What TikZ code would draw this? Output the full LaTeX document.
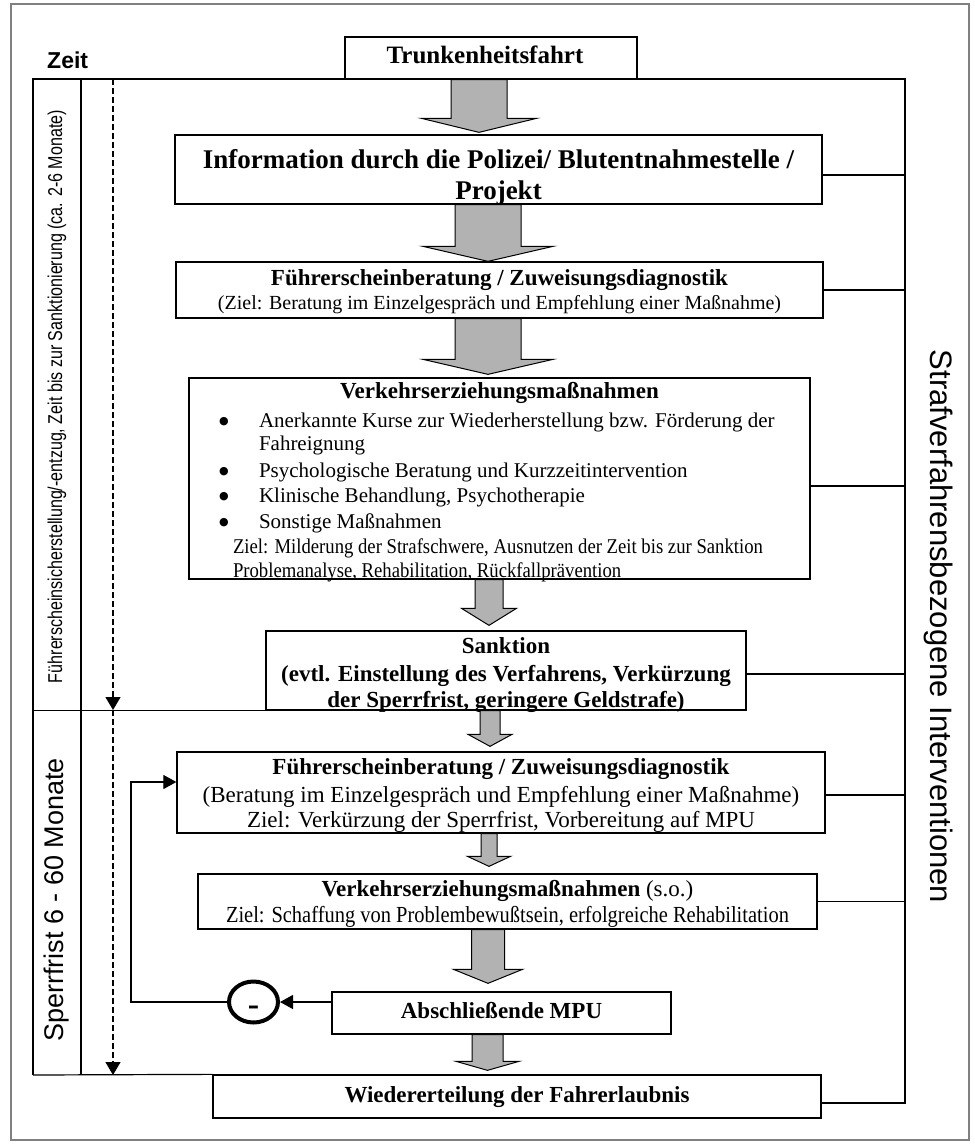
\documentclass[tikz,border=0pt]{standalone}
\usepackage{fontspec}
\setmainfont{Liberation Serif}
\setsansfont{Liberation Sans}
\newfontfamily\symf{DejaVu Sans}
\usepackage{graphicx}
\usetikzlibrary{arrows.meta,shapes.geometric,calc}
\definecolor{stip}{gray}{0.7}
\definecolor{framegray}{gray}{0.5}
\newcommand\myc[1]{\hbox to 0pt{\hss\smash{#1}\hss}}
\newcommand\myl[2]{\hbox to 0pt{\hskip #1pt\smash{#2}\hss}}
\newcommand\fs[1]{\fontsize{#1}{#1}\selectfont}
\newcommand\blt{\makebox[40pt][l]{\raisebox{2.5pt}{\symf\fontsize{11}{11}\selectfont ●}}}
\newcommand\blockarrow[7]{%
  \path[barr] let \p1=(#1.south), \p2=(#2.north) in
    (#3pt-#4pt,\y1) -- (#3pt+#4pt,\y1) -- (#3pt+#4pt,\y2+#7pt+#6pt)
    -- (#3pt+#5pt,\y2+#7pt+#6pt) -- (#3pt,\y2+#7pt)
    -- (#3pt-#5pt,\y2+#7pt+#6pt) -- (#3pt-#4pt,\y2+#7pt+#6pt) -- cycle;}
\newcommand\rconn[2]{%
  \coordinate (#1r) at ([yshift=#2pt]#1.east);
  \draw[conn] (#1r) -- (#1r -| TR);}
\begin{document}
\begin{tikzpicture}[x=1pt,y=-1pt,
  box/.style={draw, line width=1.3pt, rectangle, inner sep=0pt, text depth=0pt},
  conn/.style={line width=1.2pt},
  barr/.style={draw, line width=1pt, fill=stip, line join=miter},
  lbl/.style={inner sep=0pt, font=\sffamily},
  tip/.style={-{Triangle[width=14pt,length=13pt]}},
  timeline/.style={line width=1.2pt, dash pattern=on 6pt off 3pt, -{Triangle[width=15pt,length=13pt]}}]
\useasboundingbox (0,0) rectangle (975,1144);
\draw[framegray, line width=1.5pt] (11,4) rectangle (969,1140);

\coordinate (TL) at (33,79);
\coordinate (TR) at (905,79);
\coordinate (BL) at (33,1075);
\coordinate (IT) at (81,79);
\coordinate (IB) at (81,1075);
\coordinate (D0) at (113,79);
\coordinate (D1) at (113,710);
\coordinate (D2) at (113,1075);
\coordinate (loop) at (131,782);

% boxes
\node[box, minimum width=292pt, minimum height=42pt, text height=10pt] (trunk) at (491,58)
  {\vbox{\offinterlineskip\myc{\bfseries\fs{25}\kern-12pt Trunkenheitsfahrt}}};
\node[box, minimum width=647pt, minimum height=69pt, text height=59pt] (info) at (498.5,169.5)
  {\vbox{\offinterlineskip\bfseries\fs{27}\myc{Information durch die Polizei/ Blutentnahmestelle /}\vskip31pt\myc{Projekt}}};
\node[box, minimum width=647pt, minimum height=56pt, text height=38pt] (fbA) at (499.5,290)
  {\vbox{\offinterlineskip\myc{\bfseries\fs{23}Führerscheinberatung / Zuweisungsdiagnostik}\vskip24pt
   \myc{\fs{20}(Ziel: Beratung im Einzelgespräch und Empfehlung einer Maßnahme)}}};
\node[box, minimum width=621pt, minimum height=201pt, text height=197pt] (vem) at (499.5,478.5)
  {\vbox{\offinterlineskip
   \myc{\bfseries\fs{23}Verkehrserziehungsmaßnahmen}\vskip29pt
   \myl{-280.5}{\fs{21}\blt Anerkannte Kurse zur Wiederherstellung bzw. Förderung der}\vskip23pt
   \myl{-240.5}{\fs{21}Fahreignung}\vskip27pt
   \myl{-280.5}{\fs{21}\blt Psychologische Beratung und Kurzzeitintervention}\vskip25pt
   \myl{-280.5}{\fs{21}\blt Klinische Behandlung, Psychotherapie}\vskip26pt
   \myl{-280.5}{\fs{21}\blt Sonstige Maßnahmen}\vskip25pt
   \myl{-266.5}{\scalebox{0.89}[1]{\fs{21}Ziel: Milderung der Strafschwere, Ausnutzen der Zeit bis zur Sanktion}}\vskip24pt
   \myl{-266.5}{\scalebox{0.89}[1]{\fs{21}Problemanalyse, Rehabilitation, Rückfallprävention}}}};
\node[box, minimum width=480pt, minimum height=79pt, text height=73pt] (sank) at (506,670.5)
  {\vbox{\offinterlineskip\bfseries\fs{23}\myc{Sanktion}\vskip28pt
   \myc{(evtl. Einstellung des Verfahrens, Verkürzung}\vskip26pt
   \myc{der Sperrfrist, geringere Geldstrafe)}}};
\node[box, minimum width=648pt, minimum height=81pt, text height=69pt] (fbB) at (501,792.5)
  {\vbox{\offinterlineskip\fs{23}\myc{\bfseries Führerscheinberatung / Zuweisungsdiagnostik}\vskip28pt
   \myc{(Beratung im Einzelgespräch und Empfehlung einer Maßnahme)}\vskip25pt
   \myc{Ziel: Verkürzung der Sperrfrist, Vorbereitung auf MPU}}};
\node[box, minimum width=619pt, minimum height=55pt, text height=41pt] (vemB) at (507.5,901.5)
  {\vbox{\offinterlineskip\fs{23}\myc{\textbf{Verkehrserziehungsmaßnahmen} (s.o.)}\vskip26pt
   \myc{\scalebox{0.89}[1]{Ziel: Schaffung von Problembewußtsein, erfolgreiche Rehabilitation}}}};
\node[box, minimum width=339pt, minimum height=42pt, text height=10pt] (mpu) at (501.5,1013)
  {\vbox{\offinterlineskip\myc{\bfseries\fs{23}Abschließende MPU}}};
\node[box, minimum width=608pt, minimum height=43pt, text height=11pt] (wieder) at (517,1096.5)
  {\vbox{\offinterlineskip\myc{\bfseries\fs{23}Wiedererteilung der Fahrerlaubnis}}};

% block arrows
\blockarrow{trunk}{info}{479}{28}{57.5}{14}{2}
\blockarrow{info}{fbA}{488}{33}{65}{15}{0}
\blockarrow{fbA}{vem}{488}{33}{65}{15}{3}
\blockarrow{vem}{sank}{489}{14}{27.5}{17}{5}
\blockarrow{sank}{fbB}{490}{10}{22}{12}{5}
\blockarrow{fbB}{vemB}{489}{8}{21.5}{10}{7}
\blockarrow{vemB}{mpu}{488}{16.5}{34.5}{14}{8}
\blockarrow{mpu}{wieder}{487.5}{15.5}{31.5}{9}{4}

% frame of the intervention column
\coordinate (wr) at ([yshift=-6.5pt]wieder.east);
\draw[conn] (BL) -- (TL) -- (TR) -- (TR |- wr) -- (wr);
\rconn{info}{-5.5}
\rconn{fbA}{0}
\rconn{vem}{-7.5}
\rconn{sank}{-3.5}
\rconn{fbB}{-2.5}
\rconn{vemB}{0}
\draw[conn] (IT) -- (IB);
\draw[conn] (BL) -- (wieder.north west);
\draw[conn] (TL |- sank.south west) -- (sank.south west);
\draw[timeline] (D0) -- (D1);
\draw[timeline] (D1) -- (D2);

% feedback loop
\node[draw, ellipse, line width=4pt, minimum width=49pt, minimum height=41pt, inner sep=0pt,
  text height=26pt, text depth=0pt] (minus) at (253.5,1002) {\bfseries\fs{34}-};
\draw[conn, tip] (mpu.west |- minus) -- (minus.east);
\draw[conn, tip] (minus.west) -| (loop) -- (fbB.west |- loop);

% labels
\node[lbl, anchor=base west] (zeit) at (47,68) {\bfseries\fs{23}Zeit};
\node[lbl, rotate=90] (phaseA) at (57,396.5)
  {\resizebox{573pt}{\height}{\fs{20}Führerscheinsicherstellung/-entzug, Zeit bis zur Sanktionierung (ca. 2-6 Monate)}};
\node[lbl, rotate=90] (phaseB) at (57,900) {\fs{27}Sperrfrist 6 - 60 Monate};
\node[lbl, rotate=-90] (interv) at (939,626.5) {\fs{31}Strafverfahrensbezogene Interventionen};
\end{tikzpicture}
\end{document}
